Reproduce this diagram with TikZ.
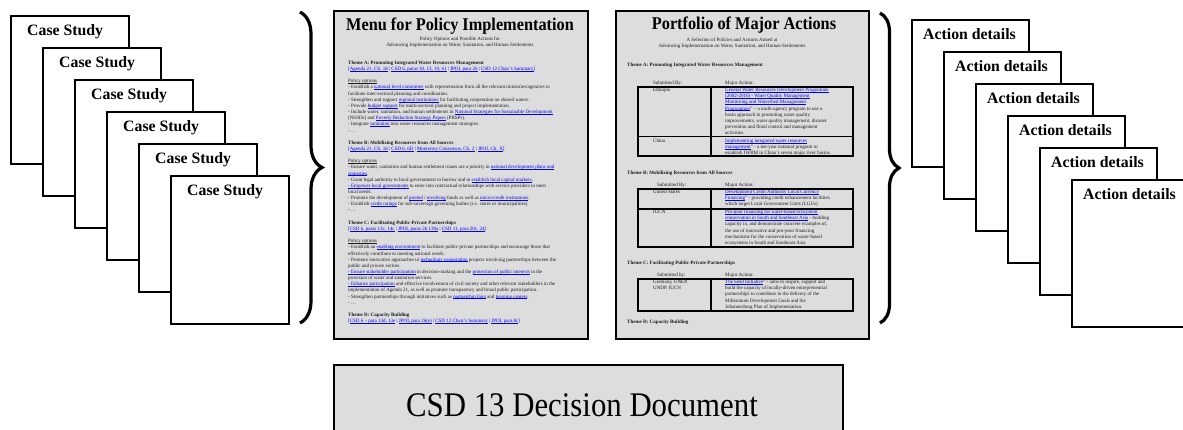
\documentclass[tikz,border=0pt]{standalone}
\usepackage{fontspec}
\setmainfont{Liberation Serif}
\usepackage{graphicx}
\usetikzlibrary{decorations.pathreplacing}
\definecolor{panel}{HTML}{DDDDDD}
\definecolor{lnk}{HTML}{0000F0}
\definecolor{bodytxt}{HTML}{1A1A1A}
\newcommand{\myul}[1]{\leavevmode\setbox0\hbox{#1}\rlap{\raisebox{-0.9pt}{\rule{\wd0}{0.6pt}}}\box0}
\newcommand{\lk}[1]{{\color{lnk}\myul{#1}}}
\newcommand{\bl}[1]{{\color{lnk}#1}}
\begin{document}
\begin{tikzpicture}[x=1pt,y=-1pt,
  sheet/.style={draw=black,line width=1.6pt,fill=white,inner sep=0pt,anchor=north west,minimum width=118pt,minimum height=148pt},
  sheetlabel/.style={font=\bfseries\fontsize{15.8}{18}\selectfont,inner sep=0pt},
  panelbox/.style={draw=black,line width=1.8pt,fill=panel,inner sep=0pt,anchor=north west},
  bigbrace/.style={decorate,decoration={brace,amplitude=#1},line width=3.2pt},
  paneltitle/.style={font=\bfseries\fontsize{16.3}{18}\selectfont,inner sep=0pt,anchor=base},
  tiny/.style={font=\fontsize{5}{6.15}\selectfont,inner sep=0pt,text=bodytxt},
  tinyblock/.style={tiny,align=left,anchor=north west},
  tinyhead/.style={tiny,font=\bfseries\fontsize{5}{6.15}\selectfont,anchor=west},
  tablerule/.style={draw=black,line width=1.6pt},
]
\useasboundingbox (0,0) rectangle (1183,429);

% ---------- Case studies ----------
\foreach \i in {0,...,5} {
  \node[sheet] (cs\i) at ({10+32*\i},{15+32*\i}) {};
  \node[sheetlabel,anchor=west] (cst\i) at ({27+32*\i},{32+32*\i}) {Case Study};
}

% ---------- left brace ----------
\draw[bigbrace=22pt] (300,12) coordinate (lbtop) -- (300,323) coordinate (lbbot);

% ---------- Menu panel ----------
\node[panelbox,minimum width=254pt,minimum height=328pt] (menu) at (333,10) {};
\node[paneltitle] (menutitle) at (460,30.7) {\scalebox{1}[1.1]{Menu for Policy Implementation}};
\node[tiny,align=center] (menusub) at (460,42) {Policy Options and Possible Actions for\\Advancing Implementation on Water, Sanitation, and Human Settlements};
\node[tinyblock] (menubody) at (348,60.7) {%
\textbf{Theme A: Promoting Integrated Water Resources Management}\\
\bl{[}\lk{Agenda 21, Ch. 18} \bl{|} \lk{CSD 6, paras 10, 13, 19, 61} \bl{|} \lk{JPOI, para 26} \bl{|} \lk{CSD 12 Chair's Summary}\bl{]}\\[6.15pt]
\myul{Policy options}\\
- Establish a \lk{national level committee} with representation from all the relevant ministries/agencies to\\
facilitate inter-sectoral planning and coordination.\\
- Strengthen and support \lk{regional institutions} for facilitating cooperation on shared waters.\\
- Provide \lk{budget support} for multi-sectoral planning and project implementation.\\
- Include water, sanitation, and human settlements in \lk{National Strategies for Sustainable Development}\\
(NSSDs) and \lk{Poverty Reduction Strategy Papers} (PRSPs).\\
- Integrate \lk{sanitation} into water resources management strategies.\\
- \dots\\[6.15pt]
\textbf{Theme B: Mobilizing Resources from All Sources}\\
\bl{[}\lk{Agenda 21, Ch. 18} \bl{|} \lk{CSD 6, 6D} \bl{|} \lk{Monterrey Consensus, Ch. 2} \bl{|} \lk{JPOI, Ch. X}\bl{]}\\[6.15pt]
\myul{Policy options}\\
- Ensure water, sanitation and human settlement issues are a priority in \lk{national development plans and}\\
\lk{strategies}.\\
- Grant legal authority to local governments to borrow and to \lk{establish local capital markets}.\\
\lk{- Empower local governments} to enter into contractual relationships with service providers to meet\\
local needs.\\
- Promote the development of \lk{pooled} / \lk{revolving} funds as well as \lk{micro-credit institutions}.\\
- Establish \lk{credit ratings} for sub-sovereign governing bodies (i.e. states or municipalities)\\
- \dots\\[6.15pt]
\textbf{Theme C: Facilitating Public-Private Partnerships}\\
\bl{[}\lk{CSD 6, paras 13c, 14c} \bl{|} \lk{JPOI, paras 26.139a} \bl{|} \lk{CSD 11, para 20c, 24}\bl{]}\\[6.15pt]
\myul{Policy options}\\
- Establish an \lk{enabling environment} to facilitate public-private partnerships and encourage those that\\
effectively contribute to meeting national needs.\\
- Promote innovative approaches to \lk{technology cooperation} projects involving partnerships between the\\
public and private sectors.\\
\lk{- Ensure stakeholder participation} in decision-making and the \lk{protection of public interests} in the\\
provision of water and sanitation services.\\
\lk{- Enhance participation} and effective involvement of civil society and other relevant stakeholders in the\\
implementation of Agenda 21, as well as promote transparency and broad public participation.\\
- Strengthen partnerships through initiatives such as \lk{partnership fairs} and \lk{learning centers}.\\
- \dots\\[6.15pt]
\textbf{Theme D: Capacity Building}\\
\bl{[}\lk{CSD 6 -- para 13d, 13e} \bl{|} \lk{JPOI, para 26(e)} \bl{|} \lk{CSD 12 Chair's Summary} \bl{|} \lk{JPOI, para 8c}\bl{]}};

% ---------- Portfolio panel ----------
\node[panelbox,minimum width=253pt,minimum height=328pt] (port) at (615,10) {};
\node[paneltitle] (porttitle) at (744,29.3) {\scalebox{1}[1.1]{Portfolio of Major Actions}};
\node[tiny,align=center] (portsub) at (732,43.5) {A Selection of Policies and Actions Aimed at\\Advancing Implementation on Water, Sanitation, and Human Settlements};

\node[tinyhead] (thA) at (627,65) {Theme A: Promoting Integrated Water Resources Management};
\node[tiny,anchor=west] (subA) at (653,83) {Submitted By:};
\node[tiny,anchor=west] (majA) at (725,83) {Major Action:};
\draw[tablerule] (638,87) rectangle (853,156);
\draw[tablerule] (638,136.5) -- (853,136.5);
\draw[tablerule] (711,87) -- (711,156);
\node[tiny,anchor=west] (eth) at (653,90) {Ethiopia};
\node[tinyblock] (ethact) at (725,87.9) {\lk{General Water Resources Development Programme}\\
\lk{(2002-2016) - Water Quality Management}\\
\lk{Monitoring and Watershed Management}\\
\lk{Programmes}'' -- a multi-agency program to use a\\
basin approach to promoting water quality\\
improvements, water quality management, disaster\\
prevention and flood control and management\\
activities.};
\node[tiny,anchor=west] (chn) at (653,141) {China};
\node[tinyblock] (chnact) at (725,138.9) {\lk{Implementing integrated water resources}\\
\lk{management}'' - a ten-year national program to\\
establish IWRM in China's seven major river basins.};

\node[tinyhead] (thB) at (627,173) {Theme B: Mobilizing Resources from All Sources};
\node[tiny,anchor=west] (subB) at (657,185) {Submitted By:};
\node[tiny,anchor=west] (majB) at (725,185) {Major Action:};
\draw[tablerule] (638,189) rectangle (853,247);
\draw[tablerule] (638,209) -- (853,209);
\draw[tablerule] (711,189) -- (711,247);
\node[tiny,anchor=west] (usa) at (653,192) {United States};
\node[tinyblock] (usaact) at (725,189.9) {\lk{Development Credit Authority Local Currency}\\
\lk{Financing}'' - providing credit enhancement facilities\\
which target Local Government Units (LGUs)};
\node[tiny,anchor=west] (iucn) at (653,212) {IUCN};
\node[tinyblock] (iucnact) at (725,209.9) {\lk{Pro-poor financing for water-based ecosystem}\\
\lk{conservation in South and Southeast Asia} - building\\
capacity in, and demonstrate concrete examples of,\\
the use of innovative and pro-poor financing\\
mechanisms for the conservation of water-based\\
ecosystems in South and Southeast Asia};

\node[tinyhead] (thC) at (627,263) {Theme C: Facilitating Public-Private Partnerships};
\node[tiny,anchor=west] (subC) at (657,275) {Submitted by:};
\node[tiny,anchor=west] (majC) at (725,275) {Major Action:};
\draw[tablerule] (638,279) rectangle (853,311);
\draw[tablerule] (711,279) -- (711,311);
\node[tinyblock] (ger) at (653,279.9) {Germany, UNEP,\\UNDP, IUCN};
\node[tinyblock] (gerA) at (725,279.9) {\lk{The Seed Initiative}'' - aims to inspire, support and\\
build the capacity of locally-driven entrepreneurial\\
partnerships to contribute to the delivery of the\\
Millennium Development Goals and the\\
Johannesburg Plan of Implementation.};
\node[tinyhead] (thD) at (627,322) {Theme D: Capacity Building};

% ---------- right brace ----------
\draw[bigbrace=19pt] (880,13) coordinate (rbtop) -- (880,323) coordinate (rbbot);

% ---------- Action details ----------
\foreach \i in {0,...,5} {
  \node[sheet,minimum width=117pt,minimum height=147pt] (ad\i) at ({911+32*\i},{19+32*\i}) {};
  \node[sheetlabel] (adt\i) at ({969.5+32*\i},{34+32*\i}) {Action details};
}

% ---------- bottom ----------
\node[panelbox,minimum width=509pt,minimum height=80pt] (csd) at (333,364) {};
\node[font=\fontsize{30.8}{34}\selectfont,inner sep=0pt,anchor=base] (csdtext) at (582,416) {\scalebox{1}[1.12]{CSD 13 Decision Document}};
\end{tikzpicture}
\end{document}
